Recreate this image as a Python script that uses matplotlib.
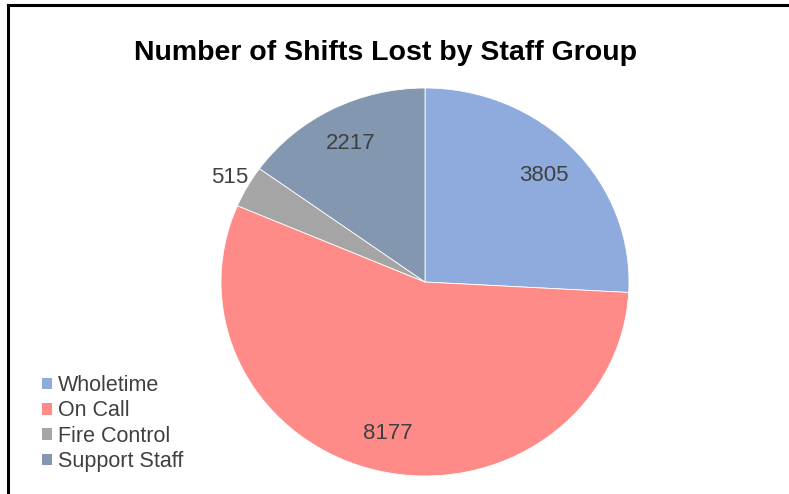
import numpy as np
import matplotlib.pyplot as plt
from matplotlib.lines import Line2D

# Shifts lost per staff group
groups = ['Wholetime', 'On Call', 'Fire Control', 'Support Staff']
shifts = [3805, 8177, 515, 2217]
colors = ['#8faadc', '#ff8b88', '#a5a5a5', '#8497b0']

plt.rcParams['font.family'] = ['Liberation Sans', 'DejaVu Sans']

fig = plt.figure(figsize=(7.89, 4.94), dpi=100)
W, H = 789, 494

# pie box in pixels (slightly wider than tall, like the original)
ax = fig.add_axes([221 / W, (H - 476) / H, 408 / W, 388 / H])
wedges, texts = ax.pie(shifts, colors=colors, startangle=90, counterclock=False,
                       labels=[str(v) for v in shifts], labeldistance=0.8,
                       wedgeprops=dict(edgecolor='white', linewidth=0.6),
                       textprops=dict(fontsize=16, color='#404040'))
ax.set_aspect('auto')
ax.set_xlim(-1, 1)
ax.set_ylim(-1, 1)

# labels centred on their slice; the small slice gets its label outside
dist = [0.8, 0.8, 1.1, 0.8]
for w, t, r in zip(wedges, texts, dist):
    mid = np.deg2rad((w.theta1 + w.theta2) / 2)
    t.set_position((r * np.cos(mid), r * np.sin(mid)))
    t.set_ha('center')
    t.set_va('center')

fig.text(386 / W, 1 - 53 / H, 'Number of Shifts Lost by Staff Group',
         ha='center', va='center', fontsize=20.5, fontweight='bold', color='black')

leg = fig.legend(wedges, groups, loc='lower left', bbox_to_anchor=(42 / W, 22 / H),
                 frameon=False, fontsize=15.5, handlelength=0.45, handleheight=0.45,
                 handletextpad=0.3, labelspacing=0.2, borderaxespad=0, borderpad=0)
for t in leg.get_texts():
    t.set_color('#404040')
for p in leg.get_patches():
    p.set_edgecolor('none')

# chart border: only top and left edges fall inside the image
fig.add_artist(Line2D([8 / W, 8 / W], [0, 1 - 5 / H], color='black', lw=2.2))
fig.add_artist(Line2D([8 / W, 1], [1 - 5 / H, 1 - 5 / H], color='black', lw=2.2))

fig.savefig('out.png', dpi=100)
